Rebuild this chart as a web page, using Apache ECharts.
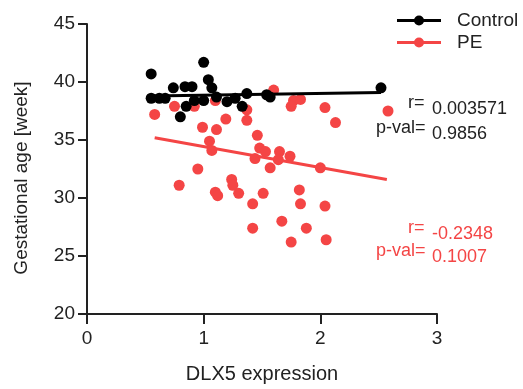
<!DOCTYPE html>
<html lang="en">
<head>
    <meta charset="UTF-8">
    <title>DLX5</title>
    <script src="https://cdn.jsdelivr.net/npm/echarts@6/dist/echarts.min.js"></script>
    <style>
        html, body { margin: 0; padding: 0; background: #fff; }
        .box { width: 523px; height: 389px; }
    </style>
</head>
<body>
<div id="chart" class="box"></div>
<script>
    // DLX5 expression vs gestational age
    var controlPts = [
        [0.55, 40.7], [1.00, 41.7], [1.04, 40.2], [0.55, 38.6], [0.62, 38.6],
        [0.67, 38.6], [0.74, 39.5], [0.84, 39.6], [0.90, 39.6], [0.80, 37.0],
        [0.85, 37.9], [0.92, 38.4], [1.00, 38.4], [1.07, 39.5], [1.11, 38.7],
        [1.20, 38.3], [1.27, 38.6], [1.33, 37.9], [1.37, 39.0], [1.54, 38.9],
        [1.57, 38.7], [2.52, 39.5]
    ];
    var pePts = [
        [0.58, 37.2], [0.75, 37.9], [0.92, 37.9], [1.10, 38.4], [0.99, 36.1],
        [1.11, 35.9], [1.19, 36.8], [1.37, 37.6], [1.37, 36.7], [1.46, 35.4],
        [1.60, 39.3], [1.77, 38.4], [1.83, 38.5], [1.75, 37.9], [2.04, 37.8],
        [2.13, 36.5], [2.58, 37.5], [1.05, 34.9], [1.07, 34.1], [1.48, 34.3],
        [1.53, 34.0], [1.65, 34.0], [1.74, 33.6], [1.44, 33.4], [1.64, 33.3],
        [1.57, 32.6], [2.00, 32.6], [0.95, 32.5], [0.79, 31.1], [1.24, 31.6],
        [1.25, 31.1], [1.30, 30.4], [1.10, 30.5], [1.12, 30.2], [1.51, 30.4],
        [1.42, 29.5], [1.83, 29.5], [2.04, 29.3], [1.82, 30.7], [1.67, 28.0],
        [1.88, 27.4], [1.42, 27.4], [1.75, 26.2], [2.05, 26.4]
    ];
    // fitted lines (end points)
    var controlFit = [[0.55, 38.8], [2.52, 39.1]];
    var peFit = [[0.58, 35.2], [2.57, 31.6]];
    var controlStats = ['0.003571', '0.9856'];
    var peStats = ['-0.2348', '0.1007'];

    var RED = '#f44545';
    var INK = '#222';
    var FONT = 'Liberation Sans';
    var legendIcon = 'path://M0,3.5 L44,3.5 L44,6.5 L0,6.5 Z M17,5 a5,5 0 1,1 10,0 a5,5 0 1,1 -10,0 Z';

    var myChart = echarts.init(document.getElementById('chart'));

    function statText(x, y, label, value, color) {
        return [
            { type: 'text', left: x, top: y - 6, style: { text: label, fill: color, font: '18px "' + FONT + '"' } },
            { type: 'text', left: 432, top: y, style: { text: value, fill: color, font: '18px "' + FONT + '"' } }
        ];
    }

    var option = {
        animation: false,
        textStyle: { fontFamily: FONT },
        grid: { left: 87, top: 24, right: 86, bottom: 75 },
        legend: {
            orient: 'vertical',
            left: 392,
            top: 6,
            itemWidth: 44,
            itemHeight: 10,
            itemGap: 3,
            textStyle: { fontSize: 19, color: INK, padding: [0, 0, 0, 11] },
            data: [
                { name: 'Control', icon: legendIcon, itemStyle: { color: '#000' } },
                { name: 'PE', icon: legendIcon, itemStyle: { color: RED } }
            ]
        },
        xAxis: {
            type: 'value', min: 0, max: 3, interval: 1,
            name: 'DLX5 expression', nameLocation: 'middle', nameGap: 50,
            nameTextStyle: { fontSize: 20, color: INK },
            axisLine: { lineStyle: { color: INK, width: 2 } },
            axisTick: { length: 10, lineStyle: { color: INK, width: 2 } },
            axisLabel: { fontSize: 19, color: INK, margin: 15 },
            splitLine: { show: false }
        },
        yAxis: {
            type: 'value', min: 20, max: 45, interval: 5,
            name: 'Gestational age [week]', nameLocation: 'middle', nameGap: 56,
            nameTextStyle: { fontSize: 19, color: INK, padding: [0, 18, 0, 0] },
            axisLine: { show: true, lineStyle: { color: INK, width: 2 } },
            axisTick: { show: true, length: 9, lineStyle: { color: INK, width: 2 } },
            axisLabel: { fontSize: 19, color: INK, margin: 12 },
            splitLine: { show: false }
        },
        series: [
            { name: 'PE', type: 'scatter', data: pePts, symbolSize: 11, itemStyle: { color: RED, opacity: 1 } },
            { name: 'Control', type: 'scatter', data: controlPts, symbolSize: 11, itemStyle: { color: '#000', opacity: 1 } },
            { name: 'PE fit', type: 'line', data: peFit, symbol: 'none', lineStyle: { color: RED, width: 3 } },
            { name: 'Control fit', type: 'line', data: controlFit, symbol: 'none', lineStyle: { color: '#000', width: 3 } }
        ],
        graphic: [].concat(
            statText(408, 100, 'r=', controlStats[0], INK),
            statText(376, 125, 'p-val=', controlStats[1], INK),
            statText(408, 225, 'r=', peStats[0], RED),
            statText(376, 248, 'p-val=', peStats[1], RED)
        )
    };
    myChart.setOption(option);
</script>
</body>
</html>
